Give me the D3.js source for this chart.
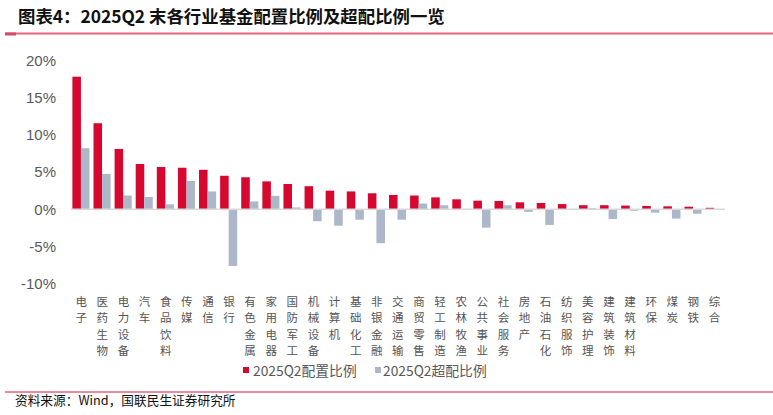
<!DOCTYPE html>
<html><head><meta charset="utf-8">
<script src="https://cdn.jsdelivr.net/npm/d3@7"></script>
<style>
html,body{margin:0;padding:0;background:#fff;}
svg{display:block;}
</style></head>
<body>
<script>
const categories = ["电子","医药生物","电力设备","汽车","食品饮料","传媒","通信","银行","有色金属","家用电器","国防军工","机械设备","计算机","基础化工","非银金融","交通运输","商贸零售","轻工制造","农林牧渔","公共事业","社会服务","房地产","石油石化","纺织服饰","美容护理","建筑装饰","建筑材料","环保","煤炭","钢铁","综合"];
const allocation = [17.8,11.55,8.1,6.08,5.68,5.58,5.3,4.5,4.3,3.75,3.4,3.1,2.5,2.4,2.15,1.92,1.85,1.6,1.34,1.16,1.12,0.94,0.85,0.7,0.55,0.55,0.5,0.45,0.4,0.35,0.2];
const overweight = [8.2,4.75,1.85,1.65,0.67,3.8,2.4,-7.6,1.05,1.8,0.25,-1.6,-2.2,-1.4,-4.55,-1.4,0.77,0.54,0.05,-2.46,0.54,-0.35,-2.1,0.05,0.15,-1.3,-0.2,-0.45,-1.25,-0.6,-0.05];
const yTicks = [-10,-5,0,5,10,15,20];
const seriesNames = ["2025Q2配置比例","2025Q2超配比例"];
const colors = ["#D6082F","#ACB8C9"];

const W = 773, H = 415;
const svg = d3.select("body").append("svg").attr("width", W).attr("height", H);
const cjk = "'Noto Sans CJK SC','Noto Sans',sans-serif";
const latin = "'Liberation Sans',Arial,sans-serif";

// Title
svg.append("text").attr("x", 18).attr("y", 23)
  .style("font-family", cjk).style("font-weight", "bold").style("font-size", "17.4px").attr("fill", "#111")
  .text("图表4：2025Q2 末各行业基金配置比例及超配比例一览");
svg.append("line").attr("x1", 5).attr("x2", W).attr("y1", 33.5).attr("y2", 33.5)
  .attr("stroke", "#E2637D").attr("stroke-width", 2);
svg.append("line").attr("x1", 5).attr("x2", 16).attr("y1", 34).attr("y2", 34)
  .attr("stroke", "#D84A68").attr("stroke-width", 3);

// Scales
const x = d3.scaleBand().domain(categories).range([70.7, 725]).paddingInner(0).paddingOuter(0);
const y = d3.scaleLinear().domain([-10, 20]).range([283.8, 60.3]);
const bw = x.bandwidth() * 0.405;
const off = x.bandwidth() * 0.08;

// Y axis labels
const yAxis = d3.axisLeft(y).tickValues(yTicks).tickFormat(d => d + "%").tickSize(0).tickPadding(0);
const ga = svg.append("g").attr("transform", "translate(56,0)").call(yAxis);
ga.select(".domain").remove();
ga.selectAll("text").style("font-family", latin).style("font-size", "15px").attr("fill", "#595959");

// Bars
const g = svg.append("g");
g.selectAll("rect.a").data(categories).enter().append("rect").attr("class", "a")
  .attr("x", (d) => x(d) + off)
  .attr("width", bw)
  .attr("y", (d, i) => y(Math.max(0, allocation[i])))
  .attr("height", (d, i) => Math.abs(y(allocation[i]) - y(0)))
  .attr("fill", colors[0]);
g.selectAll("rect.b").data(categories).enter().append("rect").attr("class", "b")
  .attr("x", (d) => x(d) + off + bw)
  .attr("width", bw)
  .attr("y", (d, i) => y(Math.max(0, overweight[i])))
  .attr("height", (d, i) => Math.abs(y(overweight[i]) - y(0)))
  .attr("fill", colors[1]);

// Zero line
svg.append("line").attr("x1", 70.7).attr("x2", 725).attr("y1", y(0)).attr("y2", y(0))
  .attr("stroke", "#D9D9D9").attr("stroke-width", 1.5);

// Category labels (vertical)
const lab = svg.append("g");
categories.forEach((c) => {
  const cx = x(c) + x.bandwidth() / 2;
  Array.from(c).forEach((ch, j) => {
    lab.append("text").attr("x", cx).attr("y", 305.5 + j * 16.6)
      .attr("text-anchor", "middle")
      .style("font-family", cjk).style("font-size", "11.5px").attr("fill", "#555")
      .text(ch);
  });
});

// Legend
const leg = [[243, 253], [375, 383]];
seriesNames.forEach((n, i) => {
  svg.append("rect").attr("x", leg[i][0]).attr("y", 367).attr("width", 6).attr("height", 6).attr("fill", colors[i]);
  svg.append("text").attr("x", leg[i][1]).attr("y", 375.5)
    .style("font-family", cjk).style("font-size", "13.8px").attr("fill", "#595959").text(n);
});

// Source line & text
svg.append("line").attr("x1", 5).attr("x2", W).attr("y1", 392).attr("y2", 392)
  .attr("stroke", "#E2637D").attr("stroke-width", 1.5);
svg.append("text").attr("x", 15).attr("y", 404.5)
  .style("font-family", cjk).style("font-size", "12.7px").attr("fill", "#111")
  .text("资料来源：Wind，国联民生证券研究所");
</script>
</body></html>
